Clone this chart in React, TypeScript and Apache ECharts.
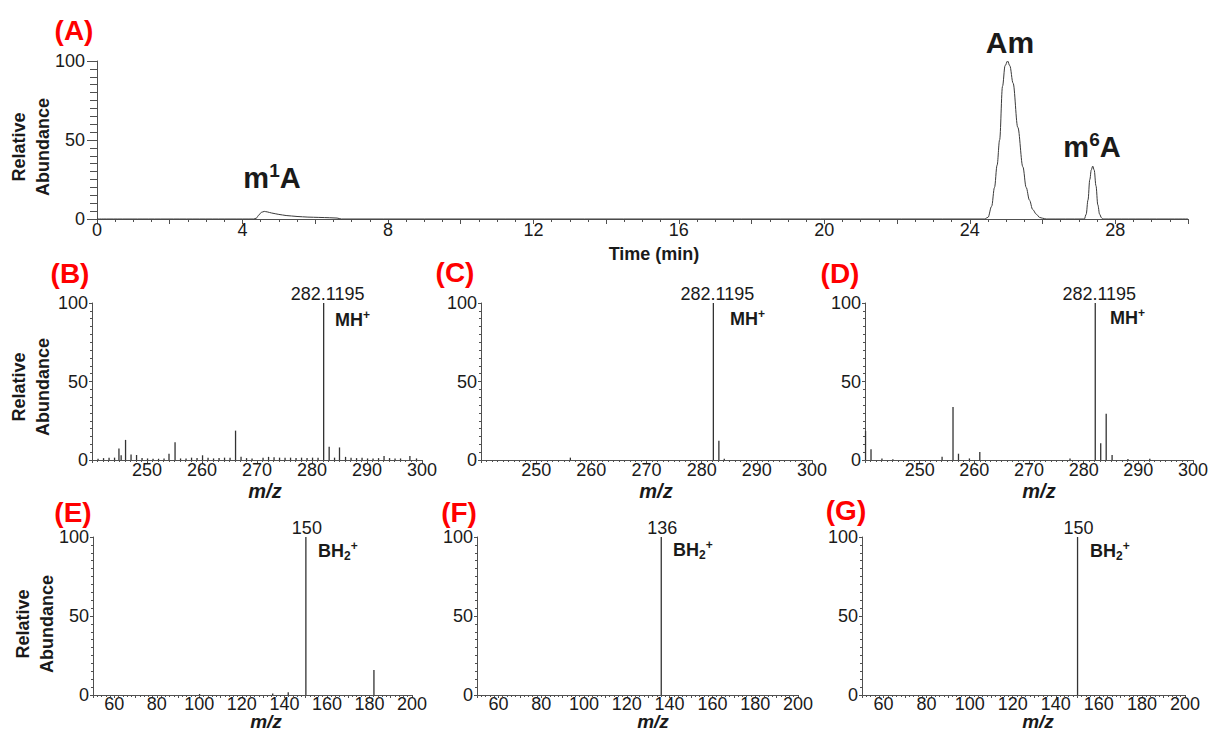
import { useEffect, useRef } from 'react';
import * as echarts from 'echarts';

const FONT = '"Liberation Sans", Arial, Helvetica, sans-serif';
const AXIS = '#505050';
const INK = '#1a1a1a';
const PEAK = '#333333';
const RED = '#ff0000';

// ---------- Panel A: extracted ion chromatogram ----------
const timeMin = [0, 4.3, 4.38, 4.45, 4.52, 4.6, 4.68, 4.8, 5.0, 5.2, 5.5, 5.8, 6.1, 6.4, 6.6, 6.72,
  24.4, 24.5, 24.6, 24.68, 24.75, 24.82, 24.9, 24.97, 25.04, 25.1, 25.19, 25.32, 25.46, 25.55, 25.64, 25.73, 25.83, 25.92, 26.0, 26.1,
  27.15, 27.2, 27.25, 27.3, 27.34, 27.38, 27.42, 27.47, 27.52, 27.57, 27.62, 27.66, 30];
const abundA = [0, 0, 0.5, 2.5, 4.2, 4.8, 4.5, 3.8, 2.9, 2.2, 1.6, 1.2, 1.0, 0.8, 0.6, 0,
  0, 1, 8, 20, 34, 50, 84, 97, 100, 97, 86, 58, 33, 20, 12, 6, 3, 1, 0.5, 0,
  0, 3, 12, 25, 31, 33.5, 31, 21, 9, 3, 0.8, 0, 0];

// ---------- Panels B-D: MS spectra (m/z 240-300) ----------
const bMz = [241.1, 242.1, 243.1, 244.1, 244.9, 245.3, 246.1, 247.1, 248.1, 249.1, 250.1, 251.1, 252.1, 253.1, 254.0, 255.1, 256.1, 257.1, 258.1, 259.1, 260.1, 261.1, 262.1, 263.1, 264.1, 265.1, 266.1, 267.1, 268.1, 269.1, 271.1, 272.1, 273.1, 274.1, 275.1, 276.1, 277.1, 278.1, 279.1, 280.1, 281.1, 282.1195, 283.12, 284.1, 285.0, 286.1, 287.1, 288.1, 289.1, 290.1, 291.1, 292.1, 293.1, 294.1, 295.1, 296.1, 297.8, 299.0];
const bAb = [0.8, 1.2, 1.5, 1.5, 7.4, 3, 12.8, 3.5, 3.2, 1.2, 1, 0.8, 0.8, 1, 4, 11.3, 1, 1, 1.5, 1.2, 3, 1.5, 1, 1.2, 1.5, 1.5, 18.7, 2, 1.2, 1, 1.5, 2, 1.8, 1.5, 1.5, 1.5, 1.2, 1.5, 1.2, 1.5, 1.5, 100, 8.5, 1.5, 8, 2, 1.5, 1.2, 1.5, 1, 1, 1.2, 2.5, 1.2, 1, 1, 2.5, 1];
const cMz = [256.2, 282.1195, 283.12, 284.1];
const cAb = [1.5, 100, 12.3, 0.8];
const dMz = [240.1, 241.1, 243.1, 245.1, 254.1, 256.1, 257.1, 259.1, 261.0, 277.5, 282.1195, 283.12, 284.12, 285.2, 288.1, 292.1];
const dAb = [18.5, 6.8, 1, 0.5, 2.1, 33.7, 4, 1, 5.1, 1, 100, 10.7, 29.4, 3.2, 0.6, 0.8];

// ---------- Panels E-G: MS/MS spectra (m/z 50-200) ----------
const eMz = [100.1, 134.5, 141.8, 150.1, 182.1];
const eAb = [0.6, 1, 1.7, 100, 15.8];
const fMz = [136.1];
const fAb = [100];
const gMz = [150.1];
const gAb = [100];

// ---------- tick labels ----------
const timeLabels = [0, 4, 8, 12, 16, 20, 24, 28];
const mzHighLabels = [250, 260, 270, 280, 290, 300];
const mzLowLabels = [60, 80, 100, 120, 140, 160, 180, 200];

const peakLabelDigits = { B: 4, C: 4, D: 4, E: 0, F: 0, G: 0 } as Record<string, number>;

const grids = [
  { left: 97, top: 61, width: 1091, height: 158 },   // A
  { left: 92, top: 303, width: 330, height: 157 },   // B
  { left: 481, top: 303, width: 331, height: 157 },  // C
  { left: 865, top: 303, width: 328, height: 157 },  // D
  { left: 93, top: 537, width: 319, height: 158 },   // E
  { left: 477, top: 537, width: 321, height: 158 },  // F
  { left: 862, top: 537, width: 323, height: 158 },  // G
];

const spectra = [
  { key: 'B', mz: bMz, ab: bAb, range: 'high' },
  { key: 'C', mz: cMz, ab: cAb, range: 'high' },
  { key: 'D', mz: dMz, ab: dAb, range: 'high' },
  { key: 'E', mz: eMz, ab: eAb, range: 'low' },
  { key: 'F', mz: fMz, ab: fAb, range: 'low' },
  { key: 'G', mz: gMz, ab: gAb, range: 'low' },
];

function yAxisCfg(gridIndex: number, tickLen: number, minorLen: number, margin: number) {
  return {
    type: 'value', gridIndex, min: 0, max: 100, interval: 50,
    axisLine: { show: true, onZero: false, lineStyle: { color: AXIS, width: 1 } },
    axisTick: { show: true, length: tickLen, lineStyle: { color: AXIS, width: 1 } },
    minorTick: { show: true, splitNumber: 10, length: minorLen, lineStyle: { color: AXIS, width: 1 } },
    splitLine: { show: false },
    minorSplitLine: { show: false },
    axisLabel: { margin, fontSize: 18, color: INK, fontFamily: FONT },
  };
}

function xAxisCfg(gridIndex: number, min: number, max: number, interval: number, minorSplit: number, labels: number[], margin: number, tickLen: number, minorLen: number) {
  return {
    type: 'value', gridIndex, min, max, interval,
    axisLine: { show: true, onZero: false, lineStyle: { color: AXIS, width: 1 } },
    axisTick: { show: true, length: tickLen, lineStyle: { color: AXIS, width: 1 } },
    minorTick: { show: true, splitNumber: minorSplit, length: minorLen, lineStyle: { color: AXIS, width: 1 } },
    splitLine: { show: false },
    minorSplitLine: { show: false },
    axisLabel: {
      margin, fontSize: 18, color: INK, fontFamily: FONT,
      showMinLabel: true, showMaxLabel: true,
      formatter: (v: number) => (labels.indexOf(Math.round(v * 1000) / 1000) >= 0 ? String(Math.round(v)) : ''),
    },
  };
}

function txt(x: number, y: number, text: string, size: number, opts: any = {}) {
  return {
    type: 'text', x, y, rotation: opts.rotation || 0, silent: true,
    style: {
      text, fill: opts.color || INK,
      fontFamily: FONT, fontSize: size, fontWeight: opts.weight || 'bold', fontStyle: opts.italic ? 'italic' : 'normal',
      align: opts.align || 'center', verticalAlign: 'middle', lineHeight: opts.lineHeight,
    },
  };
}

function richTxt(x: number, y: number, text: string, rich: any, align = 'left') {
  return {
    type: 'text', x, y, silent: true,
    style: { text, rich, fill: INK, align, verticalAlign: 'middle', fontFamily: FONT },
  };
}

const ionRich = {
  m: { fontSize: 18, fontWeight: 'bold', fontFamily: FONT, fill: INK, lineHeight: 22, verticalAlign: 'middle' },
  sub: { fontSize: 12, fontWeight: 'bold', fontFamily: FONT, fill: INK, lineHeight: 22, verticalAlign: 'bottom' },
  sup: { fontSize: 12, fontWeight: 'bold', fontFamily: FONT, fill: INK, lineHeight: 22, verticalAlign: 'top' },
};
const nucRich = {
  m: { fontSize: 29, fontWeight: 'bold', fontFamily: FONT, fill: INK, lineHeight: 34, verticalAlign: 'middle' },
  sup: { fontSize: 19, fontWeight: 'bold', fontFamily: FONT, fill: INK, lineHeight: 34, verticalAlign: 'top' },
};

export default function App() {
  const ref = useRef<HTMLDivElement>(null);
  useEffect(() => {
    if (!ref.current) return;
    const chart = echarts.init(ref.current, undefined, { renderer: 'svg' });

    const xAxes: any[] = [
      xAxisCfg(0, 0, 30, 2, 4, timeLabels, 2, 5, 3),
    ];
    const yAxes: any[] = [yAxisCfg(0, 10, 7, 12)];
    spectra.forEach((s, i) => {
      const gi = i + 1;
      if (s.range === 'high') xAxes.push(xAxisCfg(gi, 240, 300, 10, 10, mzHighLabels, 1, 3, 2));
      else xAxes.push(xAxisCfg(gi, 50, 200, 10, 5, mzLowLabels, 0, 3, 2));
      yAxes.push(yAxisCfg(gi, 3, 2, 4));
    });

    const series: any[] = [
      {
        type: 'line', xAxisIndex: 0, yAxisIndex: 0,
        data: timeMin.map((t, i) => [t, abundA[i]]),
        showSymbol: false, symbol: 'none', smooth: 0.35, smoothMonotone: 'x',
        lineStyle: { color: '#3a3a3a', width: 1 },
        silent: true,
      },
    ];
    spectra.forEach((s, i) => {
      const digits = peakLabelDigits[s.key];
      series.push({
        type: 'bar', xAxisIndex: i + 1, yAxisIndex: i + 1,
        barWidth: 1.3,
        itemStyle: { color: PEAK },
        silent: true,
        data: s.mz.map((m, k) => (s.ab[k] === 100
          ? {
            value: [m, s.ab[k]],
            label: {
              show: true, position: 'top', distance: 0, offset: [digits ? 4 : 1, 0],
              formatter: (p: any) => Number(p.value[0]).toFixed(digits),
              fontSize: 18, color: INK, fontFamily: FONT, fontWeight: 'normal',
            },
          }
          : [m, s.ab[k]])),
      });
    });

    const graphic: any[] = [
      // panel letters
      txt(74, 30, '(A)', 28, { color: RED }),
      txt(70, 273, '(B)', 28, { color: RED }),
      txt(455, 272, '(C)', 28, { color: RED }),
      txt(840, 273, '(D)', 28, { color: RED }),
      txt(73, 512, '(E)', 28, { color: RED }),
      txt(459, 512, '(F)', 28, { color: RED }),
      txt(846, 510, '(G)', 28, { color: RED }),
      // y axis names
      txt(31, 147, 'Relative\nAbundance', 18, { rotation: Math.PI / 2, lineHeight: 24 }),
      txt(31, 387, 'Relative\nAbundance', 18, { rotation: Math.PI / 2, lineHeight: 24 }),
      txt(35, 624, 'Relative\nAbundance', 18, { rotation: Math.PI / 2, lineHeight: 24 }),
      // x axis names
      txt(654, 254, 'Time (min)', 18),
      txt(265, 491, 'm/z', 20, { italic: true }),
      txt(656, 491, 'm/z', 20, { italic: true }),
      txt(1039, 491, 'm/z', 20, { italic: true }),
      txt(266, 721, 'm/z', 19, { italic: true }),
      txt(653, 721, 'm/z', 19, { italic: true }),
      txt(1038, 721, 'm/z', 19, { italic: true }),
      // nucleoside annotations
      richTxt(272, 178, '{m|m}{sup|1}{m|A}', nucRich, 'center'),
      txt(1010, 42, 'Am', 30),
      richTxt(1092, 147, '{m|m}{sup|6}{m|A}', nucRich, 'center'),
      // ion annotations
      richTxt(335, 320, '{m|MH}{sup|+}', ionRich),
      richTxt(730, 319, '{m|MH}{sup|+}', ionRich),
      richTxt(1110, 318, '{m|MH}{sup|+}', ionRich),
      richTxt(318, 551, '{m|BH}{sub|2}{sup|+}', ionRich),
      richTxt(673, 550, '{m|BH}{sub|2}{sup|+}', ionRich),
      richTxt(1090, 551, '{m|BH}{sub|2}{sup|+}', ionRich),
    ];

    chart.setOption({
      animation: false,
      backgroundColor: '#ffffff',
      textStyle: { fontFamily: FONT },
      grid: grids.map((g) => ({ ...g, containLabel: false, outerBoundsMode: 'none' })),
      xAxis: xAxes,
      yAxis: yAxes,
      series,
      graphic,
    });
    return () => chart.dispose();
  }, []);

  return (
    <div
      ref={ref}
      style={{ position: 'fixed', left: 0, top: 0, width: 1212, height: 733, background: '#ffffff' }}
    />
  );
}
